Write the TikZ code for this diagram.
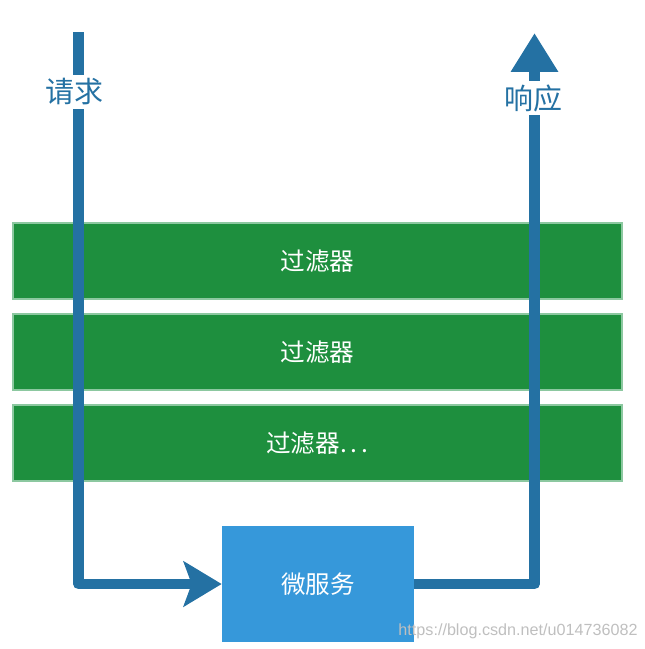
\documentclass[tikz,border=0pt]{standalone}
\usepackage{fontspec}
\setmainfont{Liberation Sans}
\newfontfamily\cjk{Noto Sans CJK SC}
\usepackage{tikz}
\usetikzlibrary{positioning, arrows.meta}
\usepackage{xcolor}
\definecolor{flowblue}{RGB}{36,113,163}
\definecolor{filtgreen}{RGB}{30,143,62}
\definecolor{filtedge}{RGB}{140,200,160}
\definecolor{svcblue}{RGB}{54,152,218}

\begin{document}
\begin{tikzpicture}[x=0.02cm, y=-0.02cm,
        bar/.style={rectangle, fill=filtgreen, draw=filtedge, line width=1pt, minimum width=12.18cm, minimum height=1.52cm, inner sep=0pt, text=white, font=\cjk\fontsize{14}{16}\selectfont},
        svcbox/.style={rectangle, fill=svcblue, minimum width=3.84cm, minimum height=2.32cm, inner sep=0pt, text=white, font=\cjk\fontsize{14}{16}\selectfont},
        lbl/.style={fill=white, text=flowblue, inner sep=2pt, font=\cjk\fontsize{16.5}{18}\selectfont},
        flow/.style={draw=flowblue, line width=6.2pt, line join=round}]

        \useasboundingbox (0,0) rectangle (645,649);

        % Filter layers
        \node[bar] (f1) at (317.5, 261) {过滤器};
        \node[bar] (f2) at (317.5, 352) {过滤器};
        \node[bar] (f3) at (317.5, 443) {过滤器.\,.\,.};

        % Microservice
        \node[svcbox] (svc) at (318, 584) {微服务};

        % Ends of the flow
        \coordinate (in) at (78.5, 32);
        \coordinate (out) at (534.5, 33);

        % Request goes down, response goes up
        \draw[flow, -{Stealth[length=0.76cm, width=0.9cm, inset=0.16cm]}] (in) |- (svc.west);
        \draw[flow, -{Triangle[length=0.78cm, width=0.9cm]}] (svc.east) -| (out);

        % Labels
        \node[lbl] (req) at (74, 92) {请求};
        \node[lbl] (resp) at (533, 98) {响应};

        % Watermark
        \node[text=black!25, font=\fontsize{9.2}{11}\selectfont] (mark) at (518, 631) {https://blog.csdn.net/u014736082};

\end{tikzpicture}
\end{document}
